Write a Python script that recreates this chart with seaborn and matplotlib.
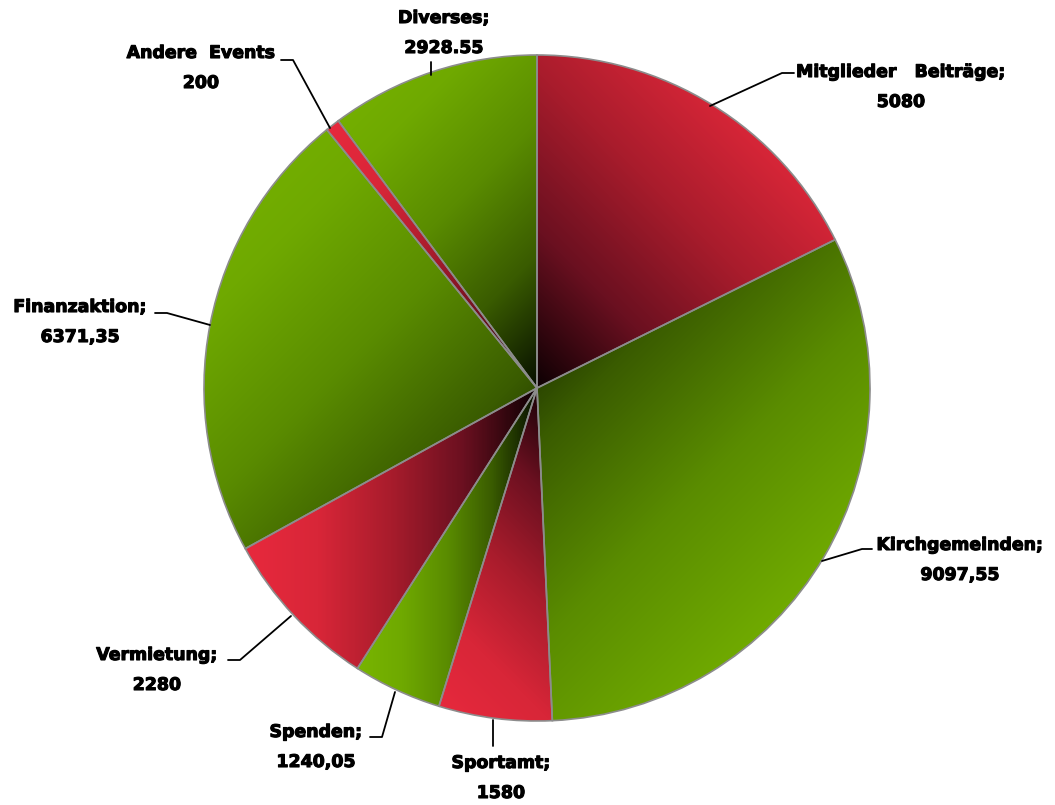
import numpy as np
import matplotlib
matplotlib.use("Agg")
import matplotlib.pyplot as plt
import matplotlib.patheffects as pe
import seaborn as sns

sns.set_theme(style="white")
plt.rcParams['font.family'] = ['DejaVu Sans']

# data, clockwise from 12 o'clock
labels = ['Mitglieder   Beiträge;', 'Kirchgemeinden;', 'Sportamt;', 'Spenden;',
          'Vermietung;', 'Finanzaktion;', 'Andere  Events', 'Diverses;']
value_text = ['5080', '9097,55', '1580', '1240,05', '2280', '6371,35', '200', '2928.55']
values = [5080, 9097.55, 1580, 1240.05, 2280, 6371.35, 200, 2928.55]
kinds = ['red', 'green', 'red', 'green', 'red', 'green', 'red', 'green']

# direction (degrees) in which each slice's gradient gets brighter
grad_dir = [45, -45, -135, 180, 180, 135, 135, 135]

W, H = 1055, 805
cx, cy, R = 537, H - 388, 333

red_cmap = sns.blend_palette(["#0d0003", "#6a1020", "#a81c2c", "#d82638", "#e8293d"],
                             as_cmap=True)
green_cmap = sns.blend_palette(["#070f00", "#3a5c00", "#5a8c00", "#6fa900", "#78b500"],
                               as_cmap=True)

fig = plt.figure(figsize=(W / 100, H / 100), dpi=100)
ax = fig.add_axes([0, 0, 1, 1])

wedges, _ = ax.pie(values, startangle=90, counterclock=False, radius=R,
                   center=(cx, cy), frame=True,
                   wedgeprops=dict(edgecolor='#8c8c8c', linewidth=1.2))

xs, ys = np.meshgrid(np.arange(W) + 0.5, np.arange(H) + 0.5)
for w, kind, gd in zip(wedges, kinds, grad_dir):
    # linear gradient over the slice's bounding box
    ang = np.deg2rad(gd)
    d = np.array([np.cos(ang), np.sin(ang)])
    th = np.deg2rad(np.linspace(w.theta1, w.theta2, 200))
    px = np.append(R * np.cos(th), 0)
    py = np.append(R * np.sin(th), 0)
    corners = np.array([[x, y] for x in (px.min(), px.max()) for y in (py.min(), py.max())])
    proj = corners @ d
    t = ((xs - cx) * d[0] + (ys - cy) * d[1] - proj.min()) / (proj.max() - proj.min())
    t = np.clip(t, 0, 1)
    cmap = red_cmap if kind == 'red' else green_cmap
    img = ax.imshow(cmap(t), extent=(0, W, 0, H), origin='lower',
                    interpolation='bilinear', zorder=1)
    img.set_clip_path(w)
    w.set_facecolor('none')
    w.set_zorder(2)

ax.set_xlim(0, W)
ax.set_ylim(0, H)
ax.set_aspect('equal')
ax.set_axis_off()

# label text centres (pixels from top-left) and leader polylines
label_pos = [(901, 72), (960, 545), (501, 763), (316, 732),
             (157, 655), (80, 307), (201, 53), (444, 18)]
leaders = [[(710, 106), (782, 73), (794, 73)],
           [(822, 561), (862, 549), (872, 549)],
           [(493, 720), (493, 746)],
           [(395, 692), (382, 737), (370, 737)],
           [(291, 616), (240, 660), (228, 660)],
           [(210, 325), (167, 313), (155, 313)],
           [(330, 128), (293, 60), (281, 60)],
           [(431, 62), (431, 75)]]

bold = [pe.withStroke(linewidth=0.8, foreground='black')]
for lab, vt, (lx0, ly0), pts in zip(labels, value_text, label_pos, leaders):
    ax.text(lx0, H - ly0, lab, ha='center', va='center', fontsize=12.5,
            fontweight='bold', color='black', zorder=5, path_effects=bold)
    ax.text(lx0, H - ly0 - 30, vt, ha='center', va='center', fontsize=12.5,
            fontweight='bold', color='black', zorder=5, path_effects=bold)
    ax.plot([p[0] for p in pts], [H - p[1] for p in pts],
            color='black', linewidth=1.3, zorder=4)

fig.savefig('out.png', dpi=100)
